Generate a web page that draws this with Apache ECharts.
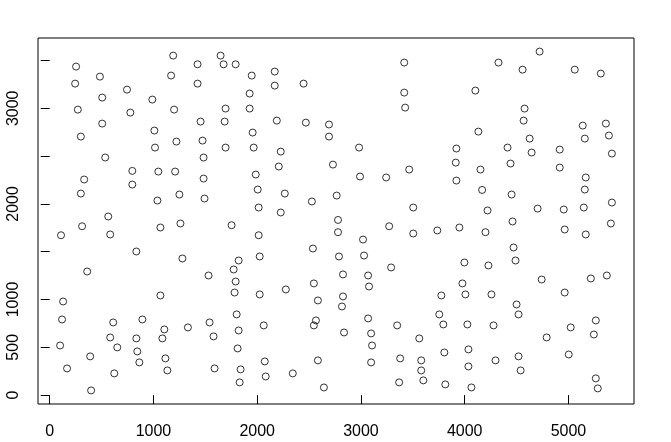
<!DOCTYPE html>
<html>
<head>
<meta charset="utf-8">
<script src="https://cdn.jsdelivr.net/npm/echarts@6/dist/echarts.min.js"></script>
<style>
  html, body { margin: 0; padding: 0; background: #fff; }
  #chart { width: 671px; height: 442px; }
</style>
</head>
<body>
<div id="chart"></div>
<script>
// point values, column by column
const xs = [
  1190, 254, 484, 1170, 245, 745, 506, 989, 271, 1199, 777, 506, 1009, 300, 1221, 1015, 535, 796, 1047, 1209, 332, 796, 300, 1250, 1038, 564,
  1647, 1425, 1676, 1792, 2169, 1947, 1425, 2169, 2447, 1927, 1695, 1927, 1454, 1686, 2189, 2469, 2692, 1956, 2692, 1473, 1695, 1966, 2227, 1483, 2208, 2730, 1986, 1483, 2005, 2266, 1492, 2527, 2014, 2227,
  3417, 3417, 4103, 3426, 4132, 2982, 3920, 3914, 3465, 4152, 2991, 3243, 3920, 2766, 4168, 3504, 4220, 2779,
  4722, 4326, 4558, 5061, 5312, 4577, 4568, 5138, 5361, 4626, 5158, 5390, 4413, 4645, 4916, 5419, 4442, 4916, 5167, 5158, 4452, 5419, 4703, 4955, 5148,
  312, 1260, 109, 583, 1067, 835, 1279, 361, 129, 1067, 119, 612, 893, 1105, 1332, 583, 835, 1086, 100, 651, 844, 390, 1115, 864, 167, 1134, 622, 399,
  1753, 2014, 2537, 1821, 2024, 1773, 1531, 1792, 2546, 2276, 1782, 2024, 2585, 1802, 1541, 1821, 2063, 2566, 2546, 1579, 1811, 2073, 2585, 1589, 1840, 2082, 2343, 1831, 2643,
  2779, 3272, 3504, 3736, 3949, 3020, 2788, 3030, 3997, 3291, 2827, 3069, 3078, 3978, 2827, 3775, 4007, 2817, 3069, 3755, 3349, 3794, 4026, 2837, 3098, 3562, 3107, 3804, 4036, 3378, 3098, 3581, 3581, 4036, 3368, 3601, 3813, 4065,
  4461, 5409, 4200, 4964, 5167, 4471, 4490, 4229, 4742, 5216, 5370, 4258, 4964, 4500, 4519, 4278, 5022, 5264, 5245, 4790, 4519, 5003, 4297, 4539, 5264, 5283
];
const ys = [
  3551, 3436, 3331, 3342, 3258, 3195, 3112, 3091, 2986, 2986, 2955, 2840, 2767, 2704, 2652, 2589, 2485, 2345, 2338, 2338, 2255, 2202, 2108, 2098, 2035, 1868,
  3551, 3460, 3460, 3460, 3384, 3342, 3258, 3237, 3258, 3154, 2997, 2997, 2861, 2861, 2871, 2850, 2830, 2746, 2704, 2662, 2589, 2589, 2547, 2485, 2391, 2411, 2307, 2265, 2150, 2108, 2056, 2025, 1962, 1910,
  3478, 3164, 3185, 3007, 2756, 2589, 2579, 2432, 2359, 2359, 2286, 2276, 2244, 2087, 2146, 1962, 1931, 1832,
  3593, 3478, 3404, 3404, 3363, 2997, 2871, 2819, 2840, 2683, 2683, 2715, 2589, 2537, 2568, 2526, 2422, 2380, 2276, 2150, 2098, 2014, 1951, 1941, 1962,
  1766, 1795, 1672, 1680, 1753, 1502, 1429, 1293, 979, 1042, 791, 760, 791, 687, 708, 603, 593, 593, 519, 499, 457, 405, 384, 342, 279, 258, 227, 49,
  1777, 1672, 1533, 1408, 1450, 1314, 1251, 1188, 1168, 1105, 1073, 1053, 990, 844, 760, 676, 729, 781, 729, 614, 488, 352, 363, 279, 269, 195, 227, 133, 80,
  1704, 1766, 1690, 1722, 1753, 1627, 1450, 1460, 1387, 1335, 1262, 1251, 1136, 1168, 1032, 1042, 1053, 927, 802, 844, 729, 739, 739, 655, 645, 593, 519, 446, 478, 384, 342, 363, 258, 300, 133, 154, 112, 80,
  1816, 1795, 1704, 1732, 1680, 1544, 1408, 1356, 1209, 1220, 1251, 1053, 1073, 948, 844, 729, 708, 781, 634, 603, 405, 425, 363, 258, 175, 70
];
const xTicks = [0, 1000, 2000, 3000, 4000, 5000];
const yTicks = [0, 500, 1000, 1500, 2000, 2500, 3000, 3500];
const yLabels = [0, 500, 1000, 2000, 3000];

// R extends the data range by 4% on each side
const xRange = [-113, 5632];
const yRange = [-93, 3735];

const points = xs.map((x, i) => [x, ys[i]]);

const fontFamily = '"Liberation Sans", Arial, sans-serif';

const chart = echarts.init(document.getElementById('chart'), null, { renderer: 'canvas' });

chart.setOption({
    animation: false,
    backgroundColor: '#fff',
    grid: {
        left: 38,
        right: 37,
        top: 38,
        bottom: 38,
        show: true,
        borderColor: '#000',
        borderWidth: 1,
        backgroundColor: 'transparent'
    },
    xAxis: {
        type: 'value',
        min: xRange[0],
        max: xRange[1],
        axisLine: { show: false },
        splitLine: { show: false },
        axisTick: {
            show: true,
            customValues: xTicks,
            length: 9,
            lineStyle: { color: '#000', width: 1 }
        },
        axisLabel: {
            customValues: xTicks,
            formatter: (v) => String(v),
            color: '#000',
            fontFamily: fontFamily,
            fontSize: 16,
            margin: 20
        }
    },
    yAxis: {
        type: 'value',
        min: yRange[0],
        max: yRange[1],
        axisLine: { show: false },
        splitLine: { show: false },
        axisTick: {
            show: true,
            customValues: yTicks,
            length: 9,
            lineStyle: { color: '#000', width: 1 }
        },
        axisLabel: {
            customValues: yLabels,
            formatter: (v) => String(v),
            rotate: 90,
            color: '#000',
            fontFamily: fontFamily,
            fontSize: 16,
            margin: 16
        }
    },
    series: [
        {
            type: 'scatter',
            data: points,
            symbol: 'circle',
            symbolSize: 7,
            itemStyle: {
                color: 'rgba(0,0,0,0)',
                borderColor: '#000',
                borderWidth: 1
            }
        }
    ]
});
</script>
</body>
</html>
